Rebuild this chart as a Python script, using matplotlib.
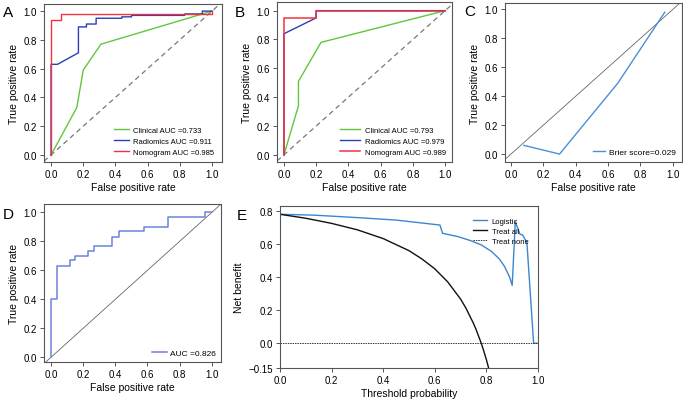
import numpy as np
import matplotlib.pyplot as plt

plt.rcParams["font.family"] = ["Liberation Sans", "DejaVu Sans"]
plt.rcParams["axes.unicode_minus"] = True

# ---------------- data ----------------
# A: training ROC
a_clin_x = [0, 0.16, 0.20, 0.31, 1.0]
a_clin_y = [0, 0.33, 0.59, 0.77, 1.0]
a_rad_x = [0, 0, 0.04, 0.17, 0.17, 0.22, 0.22, 0.28, 0.28, 0.44, 0.44, 0.50, 0.50, 0.83, 0.83, 0.94, 0.94, 1.0]
a_rad_y = [0, 0.63, 0.63, 0.71, 0.89, 0.89, 0.91, 0.91, 0.95, 0.95, 0.96, 0.96, 0.97, 0.97, 0.98, 0.98, 1.0, 1.0]
a_nom_x = [0, 0, 0.06, 0.06, 1.0, 1.0]
a_nom_y = [0, 0.94, 0.94, 0.98, 0.98, 1.0]
a_labels = ["Clinical AUC =0.733", "Radiomics AUC =0.911", "Nomogram AUC =0.985"]

# B: validation ROC
b_clin_x = [0, 0.09, 0.09, 0.23, 1.0]
b_clin_y = [0, 0.34, 0.51, 0.78, 1.0]
b_rad_x = [0, 0, 0.20, 0.20, 1.0]
b_rad_y = [0, 0.84, 0.95, 1.0, 1.0]
b_nom_x = [0, 0, 0.20, 0.20, 1.0]
b_nom_y = [0, 0.95, 0.95, 1.0, 1.0]
b_labels = ["Clinical AUC =0.793", "Radiomics AUC =0.979", "Nomogram AUC =0.989"]

# C: calibration
c_x = [0.08, 0.30, 0.66, 0.95]
c_y = [0.06, 0.0, 0.49, 0.98]
c_label = "Brier score=0.029"

# D: ROC
d_x = [0, 0, 0.04, 0.04, 0.12, 0.12, 0.15, 0.15, 0.23, 0.23, 0.27, 0.27, 0.38, 0.38,
       0.42, 0.42, 0.58, 0.58, 0.73, 0.73, 0.96, 0.96, 1.0]
d_y = [0, 0.40, 0.40, 0.63, 0.63, 0.67, 0.67, 0.70, 0.70, 0.73, 0.73, 0.77, 0.77, 0.83,
       0.83, 0.87, 0.87, 0.90, 0.90, 0.97, 0.97, 1.0, 1.0]
d_label = "AUC =0.826"

# E: decision curve
e_log_x = [0, 0.13, 0.30, 0.45, 0.62, 0.63, 0.69, 0.74, 0.78, 0.82, 0.85, 0.87, 0.89, 0.90,
           0.912, 0.93, 0.94, 0.957, 0.983, 1.0]
e_log_y = [0.78, 0.775, 0.76, 0.745, 0.715, 0.665, 0.645, 0.62, 0.595, 0.555, 0.51, 0.465, 0.40, 0.35,
           0.735, 0.66, 0.655, 0.61, 0.0, 0.0]
e_all_x = [0, 0.1, 0.2, 0.3, 0.4, 0.5, 0.55, 0.6, 0.65, 0.7, 0.72, 0.75, 0.76, 0.78, 0.79, 0.8, 0.81]
e_all_y = [0.78, 0.756, 0.725, 0.686, 0.633, 0.56, 0.51, 0.45, 0.371, 0.267, 0.214, 0.12, 0.083,
           0.0, -0.048, -0.10, -0.158]
e_none_x = [0, 1.0]
e_none_y = [0, 0]

GREEN = "#62c63d"
BLUE = "#2b3fb3"
RED = "#f2333f"
BOX = "#555555"

fig = plt.figure(figsize=(6.83, 4.02), dpi=100)


def style(ax, xticks, yticks, xlabel, ylabel):
    for s in ax.spines.values():
        s.set_color(BOX)
        s.set_linewidth(0.8)
    ax.set_xticks(xticks)
    ax.set_yticks(yticks)
    ax.tick_params(direction="out", length=3, width=0.7, color=BOX, labelsize=7, pad=2)
    ax.set_xlabel(xlabel, fontsize=7.5, labelpad=2)
    ax.set_ylabel(ylabel, fontsize=7.5, labelpad=3)


ticks01 = [0, 0.2, 0.4, 0.6, 0.8, 1.0]
lbl01 = ["0.0", "0.2", "0.4", "0.6", "0.8", "1.0"]

# ---- A ----
ax = fig.add_axes([0.0644, 0.5945, 0.2606, 0.393])
ax.axline((0, 0), (1, 1), color="#777777", ls=(0, (4, 3)), lw=0.9)
ax.plot(a_clin_x, a_clin_y, color=GREEN, lw=1, label=a_labels[0])
ax.plot(a_rad_x, a_rad_y, color=BLUE, lw=1, label=a_labels[1])
ax.plot(a_nom_x, a_nom_y, color=RED, lw=1, label=a_labels[2])
ax.set_xlim(-0.044, 1.062)
ax.set_ylim(-0.049, 1.049)
style(ax, ticks01, ticks01, "False positive rate", "True positive rate")
ax.set_xticklabels(lbl01)
ax.set_yticklabels(lbl01)
ax.legend(loc="lower right", frameon=False, fontsize=5.5, handlelength=2.0,
          handletextpad=0.5, labelspacing=0.5, borderaxespad=0.4,
          bbox_to_anchor=(0.99, 0.0))

# ---- B ----
ax = fig.add_axes([0.4056, 0.5945, 0.2562, 0.398])
ax.axline((0, 0), (1, 1), color="#777777", ls=(0, (4, 3)), lw=0.9)
ax.plot(b_clin_x, b_clin_y, color=GREEN, lw=1, label=b_labels[0])
ax.plot(b_rad_x, b_rad_y, color=BLUE, lw=1, label=b_labels[1])
ax.plot(b_nom_x, b_nom_y, color=RED, lw=1.1, label=b_labels[2])
ax.set_xlim(-0.043, 1.043)
ax.set_ylim(-0.05, 1.06)
style(ax, ticks01, ticks01, "False positive rate", "True positive rate")
ax.set_xticklabels(lbl01)
ax.set_yticklabels(lbl01)
ax.legend(loc="lower right", frameon=False, fontsize=5.5, handlelength=2.6,
          handletextpad=0.6, labelspacing=0.5, borderaxespad=0.4)

# ---- C ----
ax = fig.add_axes([0.7394, 0.5945, 0.259, 0.3955])
ax.axline((0, 0), (1, 1), color="#666666", lw=0.6)
ax.plot(c_x, c_y, color="#4a8fd8", lw=1, label=c_label)
ax.set_xlim(-0.037, 1.056)
ax.set_ylim(-0.055, 1.044)
style(ax, ticks01, ticks01, "False positive rate", "True positive rate")
ax.set_xticklabels(lbl01)
ax.set_yticklabels(lbl01)
ax.legend(loc="lower right", frameon=False, fontsize=6, handlelength=1.4,
          handletextpad=0.5, borderaxespad=0.3)

# ---- D ----
ax = fig.add_axes([0.0644, 0.097, 0.259, 0.393])
ax.axline((0, 0), (1, 1), color="#666666", lw=0.6)
ax.plot(d_x, d_y, color="#6c84de", lw=1.1, label=d_label)
ax.set_xlim(-0.043, 1.056)
ax.set_ylim(-0.032, 1.057)
style(ax, ticks01, ticks01, "False positive rate", "True positive rate")
ax.set_xticklabels(lbl01)
ax.set_yticklabels(lbl01)
ax.legend(loc="lower right", frameon=False, fontsize=6, handlelength=1.8,
          handletextpad=0.4, borderaxespad=0.2)

# ---- E ----
ax = fig.add_axes([0.41, 0.082, 0.3777, 0.403])
ax.plot(e_log_x, e_log_y, color="#3b86d1", lw=1, label="Logistic")
ax.plot(e_all_x, e_all_y, color="#111111", lw=1, label="Treat all")
ax.plot(e_none_x, e_none_y, color="#333333", lw=0.7, ls=(0, (1.5, 1)), label="Treat none")
ax.set_xlim(0, 1.0)
ax.set_ylim(-0.15, 0.83)
style(ax, ticks01, [-0.15, 0, 0.2, 0.4, 0.6, 0.8], "Threshold probability", "Net benefit")
ax.set_xticklabels(lbl01)
ax.set_yticklabels(["\u22120.15", "0.0", "0.2", "0.4", "0.6", "0.8"])
ax.legend(loc="upper right", frameon=False, fontsize=5.5, handlelength=1.8,
          handletextpad=0.6, labelspacing=0.35, bbox_to_anchor=(0.99, 0.97))

# panel letters
for lab, (px, py) in {"A": (8, 13), "B": (240, 13), "C": (470, 12),
                      "D": (8, 215), "E": (242, 216)}.items():
    fig.text(px / 683, 1 - py / 402, lab, fontsize=11, ha="center", va="center")

fig.savefig("out.png", dpi=100)
